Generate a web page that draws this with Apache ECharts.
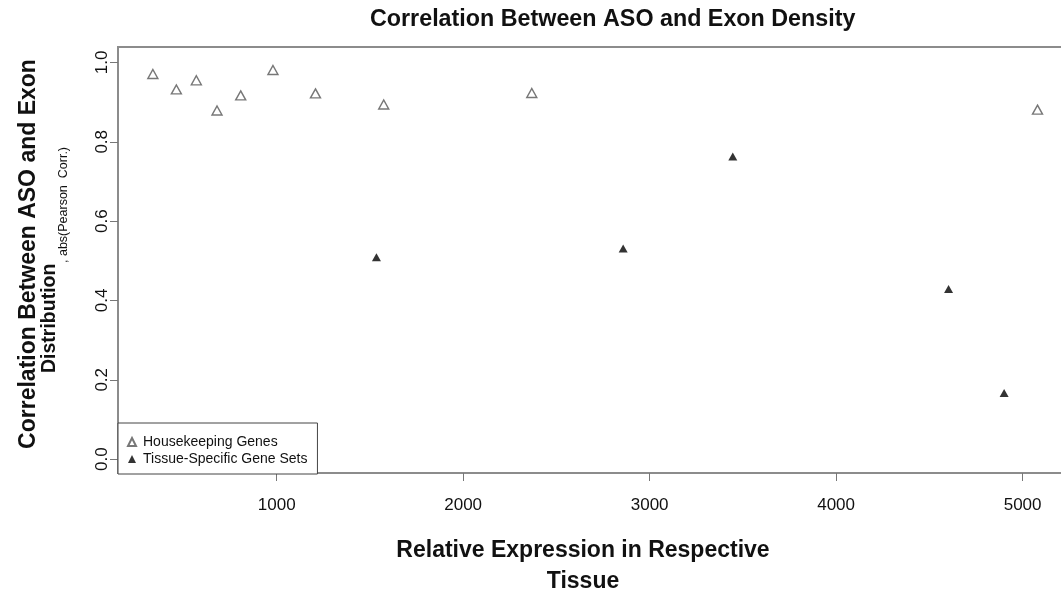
<!DOCTYPE html>
<html>
<head>
<meta charset="utf-8">
<script src="https://cdn.jsdelivr.net/npm/echarts@6/dist/echarts.min.js"></script>
<style>
  html, body { margin: 0; padding: 0; background: #fff; }
  #chart { width: 1061px; height: 592px; }
</style>
</head>
<body>
<div id="chart"></div>
<script>
// Relative expression (x) and |Pearson correlation| (y) per gene set
const housekeepingExpr = [336, 462, 569, 680, 807, 980, 1208, 1574, 2368, 5080];
const housekeepingCorr = [0.971, 0.932, 0.955, 0.879, 0.917, 0.981, 0.922, 0.894, 0.923, 0.881];
const tissueExpr = [1535, 2858, 3446, 4603, 4901];
const tissueCorr = [0.509, 0.531, 0.763, 0.429, 0.167];

// Axis tick values
const xTicks = [1000, 2000, 3000, 4000, 5000];
const yTicks = [0, 0.2, 0.4, 0.6, 0.8, 1.0];

const seriesNames = ['Housekeeping Genes', 'Tissue-Specific Gene Sets'];
const chartTitle = 'Correlation Between ASO and Exon Density';
const xTitle = 'Relative Expression in Respective\nTissue';
const yTitleLine1 = 'Correlation Between ASO and Exon';
const yTitleLine2 = 'Distribution';
const yTitleSub = ', abs(Pearson  Corr.)';

const FONT = "'Liberation Sans', Arial, Helvetica, sans-serif";
const INK = '#111';

const toPoints = (xs, ys) => xs.map((x, i) => [x, ys[i]]);

const chart = echarts.init(document.getElementById('chart'), null, { renderer: 'canvas' });

chart.setOption({
  animation: false,
  backgroundColor: '#fff',
  title: {
    text: chartTitle,
    left: 370,
    top: 8,
    padding: 0,
    textStyle: { fontFamily: FONT, fontSize: 23.3, fontWeight: 'bold', color: INK }
  },
  grid: {
    left: 118,
    top: 47,
    width: 954,
    height: 426,
    containLabel: false,
    outerBoundsMode: 'none',
    show: true,
    borderColor: '#8c8c8c',
    borderWidth: 2,
    backgroundColor: '#fff'
  },
  xAxis: {
    type: 'value',
    min: 149,
    max: 5265,
    axisLine: { show: false, onZero: false },
    splitLine: { show: false },
    axisTick: { show: true, inside: false, length: 8, customValues: xTicks, lineStyle: { color: '#777', width: 1 } },
    axisLabel: {
      customValues: xTicks,
      margin: 24,
      fontFamily: FONT,
      fontSize: 17,
      color: INK,
      formatter: v => String(v)
    }
  },
  yAxis: {
    type: 'value',
    min: -0.035,
    max: 1.039,
    axisLine: { show: false, onZero: false },
    splitLine: { show: false },
    axisTick: { show: true, inside: false, length: 8, customValues: yTicks, lineStyle: { color: '#777', width: 1 } },
    axisLabel: {
      customValues: yTicks,
      rotate: 90,
      margin: 7,
      fontFamily: FONT,
      fontSize: 17,
      color: INK,
      formatter: v => v.toFixed(1)
    }
  },
  legend: {
    orient: 'vertical',
    left: 118,
    top: 423,
    data: seriesNames,
    selectedMode: false,
    itemWidth: 8,
    itemHeight: 8,
    itemGap: 3,
    padding: [12, 10, 8, 9],
    borderColor: '#444',
    borderWidth: 1,
    borderRadius: 0,
    backgroundColor: '#fff',
    textStyle: { fontFamily: FONT, fontSize: 14, color: INK, padding: [0, 0, 0, 2] }
  },
  series: [
    {
      name: seriesNames[0],
      type: 'scatter',
      symbol: 'triangle',
      symbolSize: [10, 9],
      itemStyle: { color: '#fff', borderColor: '#555', borderWidth: 1.4 },
      data: toPoints(housekeepingExpr, housekeepingCorr)
    },
    {
      name: seriesNames[1],
      type: 'scatter',
      symbol: 'triangle',
      symbolSize: [9, 8],
      itemStyle: { color: '#000' },
      data: toPoints(tissueExpr, tissueCorr)
    }
  ],
  graphic: [
    {
      type: 'text',
      x: 583,
      y: 566,
      style: {
        text: xTitle,
        fontFamily: FONT,
        fontSize: 23,
        fontWeight: 'bold',
        lineHeight: 31,
        fill: INK,
        textAlign: 'center',
        textVerticalAlign: 'middle'
      }
    },
    {
      type: 'text',
      x: 29,
      y: 254,
      rotation: Math.PI / 2,
      style: {
        text: yTitleLine1,
        fontFamily: FONT,
        fontSize: 23,
        fontWeight: 'bold',
        fill: INK,
        textAlign: 'center',
        textVerticalAlign: 'middle'
      }
    },
    {
      type: 'text',
      x: 50,
      y: 373,
      rotation: Math.PI / 2,
      style: {
        text: yTitleLine2,
        fontFamily: FONT,
        fontSize: 19.5,
        fontWeight: 'bold',
        fill: INK,
        textAlign: 'left',
        textVerticalAlign: 'middle'
      }
    },
    {
      type: 'text',
      x: 64,
      y: 263,
      rotation: Math.PI / 2,
      style: {
        text: yTitleSub,
        fontFamily: FONT,
        fontSize: 12.5,
        fill: INK,
        textAlign: 'left',
        textVerticalAlign: 'middle'
      }
    }
  ]
});
</script>
</body>
</html>
